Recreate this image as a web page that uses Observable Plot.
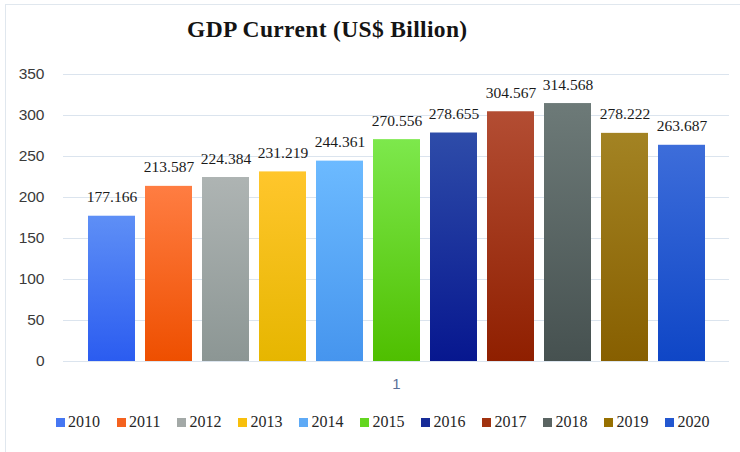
<!DOCTYPE html>
<html>
<head>
<meta charset="utf-8">
<script src="https://cdn.jsdelivr.net/npm/d3@7"></script>
<script src="https://cdn.jsdelivr.net/npm/@observablehq/plot@0.6"></script>
<style>
  body { margin: 0; background: #fff; }
  #wrap { position: relative; width: 740px; height: 452px; overflow: hidden; background: #fff; }
  #frame { position: absolute; left: 5px; top: 4px; width: 800px; height: 500px;
           border-left: 1.5px solid #e0e7ee; border-top: 1.5px solid #e0e7ee; }
  #title { position: absolute; left: 187px; top: 16px; font-family: "Liberation Serif", serif;
           font-weight: bold; font-size: 23.5px; letter-spacing: 0.35px; color: #141414; white-space: nowrap; }
  #chart { position: absolute; left: 0; top: 0; }
  #legend { position: absolute; left: 56px; top: 412px; width: 720px; }
  #legend .lg-swatches { font-family: "Liberation Serif", serif; font-size: 16px; color: #262626;
                         min-height: 0; margin: 0; line-height: 20px; }
  #legend .lg-swatch { margin-right: 17px; }
  #legend .lg-swatch svg { margin-right: 3px; }
</style>
</head>
<body>
<div id="wrap">
  <div id="frame"></div>
  <div id="title">GDP Current (US$ Billion)</div>
  <div id="chart"></div>
  <div id="legend"></div>
</div>
<script>
// ---- data ----
const category = "1";
const years = ["2010", "2011", "2012", "2013", "2014", "2015", "2016", "2017", "2018", "2019", "2020"];
const gdp = [177.166, 213.587, 224.384, 231.219, 244.361, 270.556, 278.655, 304.567, 314.568, 278.222, 263.687];
const yTicks = [0, 50, 100, 150, 200, 250, 300, 350];

// ---- colours ----
const topColors    = ["#5e8ff6", "#ff7d42", "#aeb4b3", "#ffc62c", "#6cbaff", "#7de84c", "#2e4ca9", "#b34d33", "#6d7a78", "#a38323", "#3d6dda"];
const bottomColors = ["#2b5cf0", "#ee4f00", "#8c9694", "#e6b600", "#4695ee", "#4fbf00", "#07178f", "#8f1f00", "#465150", "#875f00", "#0f46c6"];
const legendColors = ["#4677f2", "#f4621f", "#a3a9a7", "#f8bf0c", "#5eaaf6", "#64d620", "#172c98", "#a1320f", "#5a6462", "#977000", "#2357d0"];

const data = years.map((year, i) => ({category, year, value: gdp[i]}));
const fmt = d3.format(".3f");

const chart = Plot.plot({
  width: 740,
  height: 400,
  marginTop: 74,
  marginBottom: 39,
  marginLeft: 63,
  marginRight: 11,
  style: {fontFamily: "Liberation Sans, sans-serif", fontSize: "15px", color: "#404040", background: "transparent"},
  fx: {domain: [category], padding: 0},
  x: {domain: years, paddingInner: 0.179, paddingOuter: 0.406, axis: null},
  y: {domain: [0, 350], axis: null},
  color: {type: "identity"},
  marks: [
    Plot.gridY(yTicks, {stroke: "#dbe4ee", strokeOpacity: 1, strokeWidth: 1.2}),
    Plot.axisY(yTicks, {tickSize: 0, tickPadding: 19, fontSize: 15.5, color: "#3a3a3a", label: null}),
    Plot.axisFx({anchor: "bottom", tickSize: 0, tickPadding: 17, fontSize: 15, color: "#5b6f98", label: null}),
    Plot.barY(data, {fx: "category", x: "year", y: "value", fill: d => `url(#grad-${d.year})`}),
    Plot.text(data, {
      fx: "category", x: "year", y: "value",
      text: d => fmt(d.value),
      lineAnchor: "bottom", dy: -14,
      fontFamily: "Liberation Serif, serif", fontSize: 15.5, fill: "#1a1a1a"
    })
  ]
});

const defs = d3.select(chart).insert("defs", ":first-child");
years.forEach((y, i) => {
  const g = defs.append("linearGradient")
    .attr("id", `grad-${y}`)
    .attr("x1", 0).attr("y1", 0).attr("x2", 0).attr("y2", 1);
  g.append("stop").attr("offset", "0%").attr("stop-color", topColors[i]);
  g.append("stop").attr("offset", "100%").attr("stop-color", bottomColors[i]);
});

document.getElementById("chart").append(chart);

const legend = Plot.legend({
  color: {type: "ordinal", domain: years, range: legendColors},
  legend: "swatches",
  swatchSize: 9,
  className: "lg"
});
document.getElementById("legend").append(legend);
</script>
</body>
</html>
